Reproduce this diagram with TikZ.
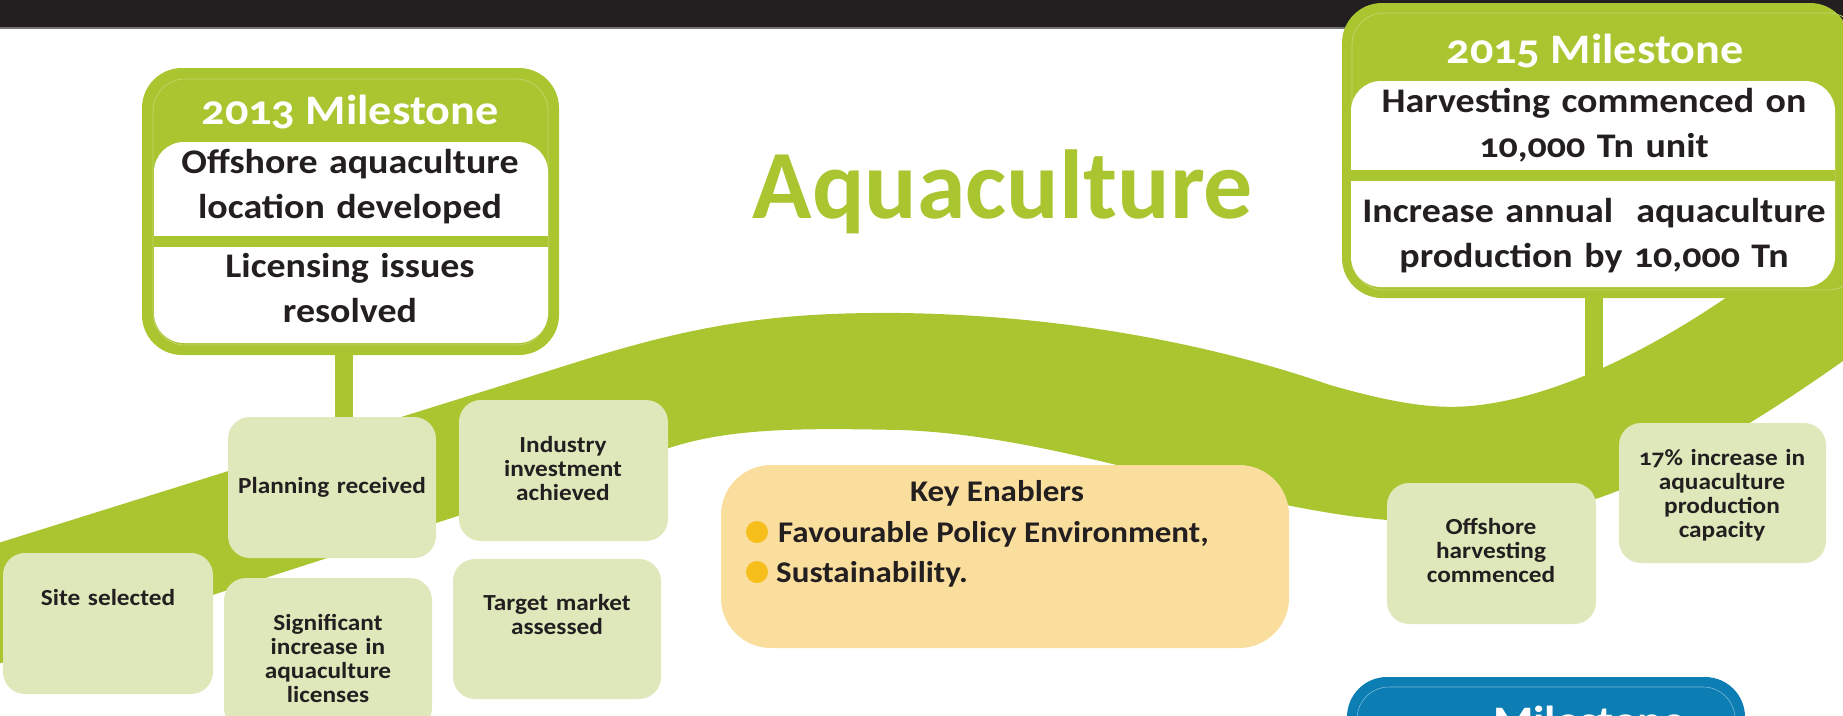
\documentclass[tikz,border=0pt]{standalone}
\usepackage{fontspec}
\newfontfamily\labelfont{Carlito}[FakeStretch=1.1,Numbers=OldStyle]
\newfontfamily\titlefont{Carlito}
\newcommand{\headfont}{\labelfont\bfseries\fontsize{42}{50}\selectfont}
\newcommand{\bodyfont}{\labelfont\bfseries\fontsize{34.5}{45}\selectfont}
\newcommand{\stepfont}{\labelfont\bfseries\fontsize{23}{24}\selectfont}
\newcommand{\keyfont}{\labelfont\bfseries\fontsize{30}{40}\selectfont}

\definecolor{aquagreen}{HTML}{A9C52F}
\definecolor{boxgreen}{HTML}{DFE8BA}
\definecolor{enablerfill}{HTML}{FADE9D}
\definecolor{bulletyellow}{HTML}{F6BE1A}
\definecolor{mileblue}{HTML}{0C7EB3}
\definecolor{barblack}{HTML}{231F20}

\tikzset{
  milebox/.style={fill=aquagreen, rounded corners=40pt, inner sep=0pt},
  mstem/.style={draw=aquagreen, line width=18pt},
  stepbox/.style={fill=boxgreen, rounded corners=22pt, inner sep=0pt},
  steptext/.style={font=\stepfont, text=barblack, align=center, text width=220pt, inner sep=0pt, anchor=base},
  headtext/.style={font=\headfont, text=white, inner sep=0pt, anchor=base},
  bodytext/.style={font=\bodyfont, text=barblack, align=center, text width=520pt, inner sep=0pt, anchor=base},
  bullet/.style={circle, fill=bulletyellow, minimum size=22pt, inner sep=0pt},
}

\begin{document}
\begin{tikzpicture}[x=1pt,y=-1pt]
  \useasboundingbox (0,0) rectangle (1843,715);
  \clip (0,0) rectangle (1843,715);

  \fill[barblack] (0,0) rectangle (1843,27);
  \fill[black!55] (0,27) rectangle (1843,29);

  % ribbon
  \fill[aquagreen] (-5,544) -- (574,363) .. controls (700,323) and (780,312) .. (900,313)
        .. controls (1050,315) and (1200,340) .. (1330,385)
        .. controls (1400,405) and (1440,410) .. (1480,405)
        .. controls (1560,395) and (1650,350) .. (1730,295)
        -- (1800,245) -- (1850,245) -- (1850,356)
        .. controls (1760,420) and (1650,490) .. (1550,512)
        .. controls (1480,525) and (1420,525) .. (1350,516)
        .. controls (1200,495) and (1050,435) .. (900,430)
        .. controls (800,428) and (730,428) .. (669,448)
        -- (-5,665) -- cycle;

  % 2013 milestone
  \node[milebox, minimum width=417pt, minimum height=287pt] (m13) at (350.5,211.5) {};
  \draw[aquagreen!70!white, line width=0.7pt, rounded corners=32pt] (153,79) rectangle (548,345);
  \fill[white, rounded corners=30pt] (154,142) rectangle (548,343);
  \fill[aquagreen] (154,236) rectangle (548,247);
  \coordinate (s13) at (344,440);
  \draw[mstem] (s13 |- m13.south) -- (s13);
  \node[headtext] (m13title) at (350,124) {2013 Milestone};
  \node[bodytext] (m13top) at (350,173) {Offshore aquaculture\\location developed};
  \node[bodytext] (m13bot) at (350,277) {Licensing issues\\resolved};

  % 2015 milestone
  \node[milebox, minimum width=508pt, minimum height=295pt] (m15) at (1596,150.5) {};
  \draw[aquagreen!70!white, line width=0.7pt, rounded corners=32pt] (1352,13) rectangle (1860,290);
  \fill[white, rounded corners=30pt] (1351,81) rectangle (1835,287);
  \fill[aquagreen] (1351,170) rectangle (1835,181);
  \coordinate (s15) at (1593.5,390);
  \draw[mstem] (s15 |- m15.south) -- (s15);
  \node[headtext] (m15title) at (1595,63) {2015 Milestone};
  \node[bodytext] (m15top) at (1594,112) {Harvesting commenced on\\10,000 Tn unit};
  \node[bodytext] (m15bot) at (1594,222) {Increase annual~~aquaculture\\production by 10,000 Tn};

  \node[font=\titlefont\bfseries\fontsize{98}{110}\selectfont, text=aquagreen, inner sep=0pt, anchor=base] (title) at (1003,218) {Aquaculture};

  % steps along the ribbon
  \node[stepbox, minimum width=210pt, minimum height=141pt] (site) at (108,623.5) {};
  \node[steptext] (sitetxt) at (108,605) {Site selected};
  \node[stepbox, minimum width=208pt, minimum height=141pt] (plan) at (332,487.5) {};
  \node[steptext] (plantxt) at (332,493) {Planning received};
  \node[stepbox, minimum width=208pt, minimum height=152pt] (licence) at (328,654) {};
  \node[steptext] (licencetxt) at (328,630) {Significant\\increase in\\aquaculture\\licenses};
  \node[stepbox, minimum width=209pt, minimum height=141pt] (invest) at (563.5,470.5) {};
  \node[steptext] (investtxt) at (563,452) {Industry\\investment\\achieved};
  \node[stepbox, minimum width=208pt, minimum height=140pt] (market) at (557,629) {};
  \node[steptext] (markettxt) at (557,610) {Target market\\assessed};
  \node[stepbox, minimum width=209pt, minimum height=141pt] (harvest) at (1491.5,553.5) {};
  \node[steptext] (harvesttxt) at (1491,534) {Offshore\\harvesting\\commenced};
  \node[stepbox, minimum width=207pt, minimum height=140pt] (capacity) at (1722.5,493) {};
  \node[steptext] (capacitytxt) at (1722,465) {17\% increase in\\aquaculture\\production\\capacity};

  % key enablers
  \node[fill=enablerfill, rounded corners=50pt, minimum width=568pt, minimum height=183pt, inner sep=0pt] (keybox) at (1005,556.5) {};
  \node[font=\keyfont, text=barblack, inner sep=0pt, anchor=base] (keytitle) at (997,501) {Key Enablers};
  \node[bullet] (b1) at (757,532) {};
  \node[font=\keyfont, text=barblack, inner sep=0pt, anchor=base west] (key1) at (778,542) {Favourable Policy Environment,};
  \node[bullet] (b2) at (757,572) {};
  \node[font=\keyfont, text=barblack, inner sep=0pt, anchor=base west] (key2) at (776,582) {Sustainability.};

  % next milestone (cut off)
  \node[fill=mileblue, rounded corners=40pt, minimum width=398pt, minimum height=120pt, inner sep=0pt] (mnext) at (1546,737) {};
  \draw[mileblue!55!white, line width=0.6pt, rounded corners=32pt] (1357,687) rectangle (1735,800);
  \node[headtext, anchor=base west] (mnexttitle) at (1493,735) {Milestone};
\end{tikzpicture}
\end{document}
